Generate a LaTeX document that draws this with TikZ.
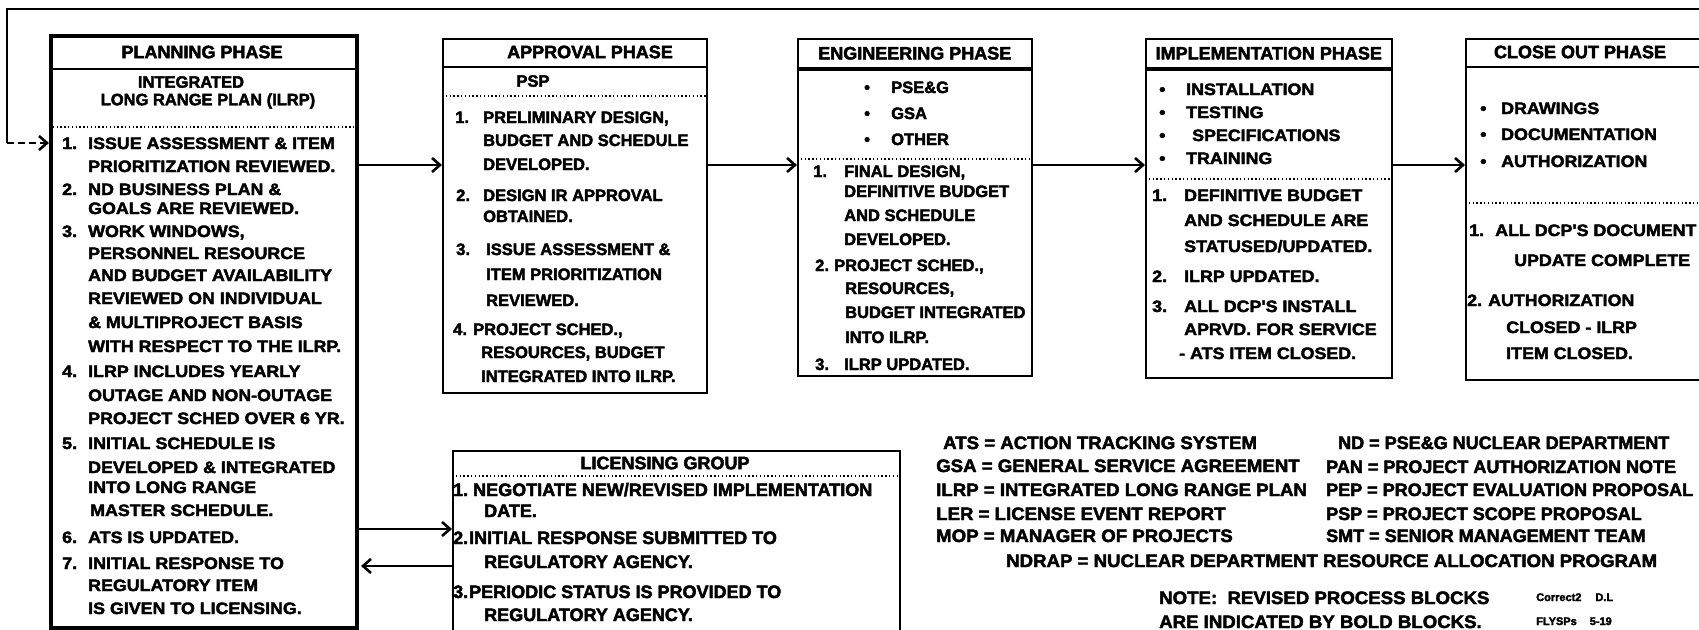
\documentclass[tikz,border=0pt]{standalone}
\usepackage{fontspec}
\setmainfont{Liberation Sans}[BoldFeatures={FakeBold=2.5}]
\newfontfamily\widefam{Liberation Sans}[BoldFeatures={FakeBold=2.5,FakeStretch=1.08}]
\newfontfamily\legfam{Liberation Sans}[BoldFeatures={FakeBold=2.5,FakeStretch=1.035}]
\usetikzlibrary{arrows.meta}
\newcommand\fs{\fontsize{16.5}{20}\selectfont\bfseries}
\newcommand\wfs{\widefam\fontsize{16.5}{20}\selectfont\bfseries}
\newcommand\lgfs{\fontsize{18}{21}\selectfont\bfseries}
\newcommand\legfs{\legfam\fontsize{18}{21}\selectfont\bfseries}
\newcommand\smfs{\fontsize{11}{13}\selectfont\bfseries}
\newcommand\nm[2]{\makebox[#1pt][l]{#2}}
\tikzset{box/.style={draw,line width=1.5pt,inner sep=0pt,anchor=north west},
	 boldbox/.style={box,line width=4pt},
	 ln/.style={anchor=base west,inner sep=0pt,yshift=-6pt,font=\fs},
	 wln/.style={ln,font=\wfs},
	 hd/.style={anchor=center,inner sep=0pt,font=\lgfs},
	 sep/.style={line width=1.5pt,dash pattern=on 1.4pt off 2.4pt},
	 rule/.style={line width=1.5pt},
	 flow/.style={line width=1.5pt,-{Straight Barb[length=8pt,width=14pt,line width=2.6pt]}}
	 }
\begin{document}
\begin{tikzpicture}[x=1pt,y=-1pt]
	\fill[white] (0,0) rectangle (1699,629);
	\useasboundingbox (0,0) rectangle (1699,629);
	% planning phase
	\node[boldbox,minimum width=306pt,minimum height=592pt] (plan) at (49,34) {};
	\node[hd] (planhd) at (202,52) {PLANNING PHASE};
	\draw[rule] (plan.west |- 0,69) -- (plan.east |- 0,69);
	\node[hd,font=\fs] (planint) at (191,82) {INTEGRATED};
	\node[hd,font=\fs] (planlrp) at (208,101) {LONG RANGE PLAN (ILRP)};
	\draw[sep] (plan.west |- 0,127) -- (plan.east |- 0,127);
	\foreach \x/\y/\t [count=\i] in {62/143/{\nm{26}{1.}ISSUE ASSESSMENT \& ITEM},
	  88/166/{PRIORITIZATION REVIEWED.}, 62/189/{\nm{26}{2.}ND BUSINESS PLAN \&},
	  88/208/{GOALS ARE REVIEWED.}, 62/231/{\nm{26}{3.}WORK WINDOWS,},
	  88/253/{PERSONNEL RESOURCE}, 88/275/{AND BUDGET AVAILABILITY},
	  88/298/{REVIEWED ON INDIVIDUAL}, 88/322/{\& MULTIPROJECT BASIS},
	  88/346/{WITH RESPECT TO THE ILRP.}, 62/371/{\nm{26}{4.}ILRP INCLUDES YEARLY},
	  88/395/{OUTAGE AND NON-OUTAGE}, 88/418/{PROJECT SCHED OVER 6 YR.},
	  62/443/{\nm{26}{5.}INITIAL SCHEDULE IS}, 88/467/{DEVELOPED \& INTEGRATED},
	  88/487/{INTO LONG RANGE}, 90/510/{MASTER SCHEDULE.},
	  62/537/{\nm{26}{6.}ATS IS UPDATED.}, 62/563/{\nm{26}{7.}INITIAL RESPONSE TO},
	  88/585/{REGULATORY ITEM}, 88/608/{IS GIVEN TO LICENSING.}}
	  \node[wln] (pl\i) at (\x,\y) {\t};
	% approval phase
	\node[box,minimum width=264pt,minimum height=354pt] (appr) at (442,38) {};
	\node[hd] (apprhd) at (590,52) {APPROVAL PHASE};
	\draw[rule] (appr.west |- 0,67) -- (appr.east |- 0,67);
	\node[hd,font=\fs] (apprpsp) at (533,81) {PSP};
	\draw[sep] (appr.west |- 0,96) -- (appr.east |- 0,96);
	\foreach \x/\y/\t [count=\i] in {455/117/{\nm{28}{1.}PRELIMINARY DESIGN,},
	  483/140/{BUDGET AND SCHEDULE}, 483/164/{DEVELOPED.},
	  456/195/{\nm{27}{2.}DESIGN IR APPROVAL}, 483/216/{OBTAINED.},
	  456/249/{\nm{30}{3.}ISSUE ASSESSMENT \&}, 486/274/{ITEM PRIORITIZATION},
	  486/300/{REVIEWED.}, 453/329/{\nm{20}{4.}PROJECT SCHED.,},
	  481/352/{RESOURCES, BUDGET}, 481/376/{INTEGRATED INTO ILRP.}}
	  \node[ln] (ap\i) at (\x,\y) {\t};
	% engineering phase
	\node[box,minimum width=234pt,minimum height=29pt,font=\lgfs] (engrhd) at (797,38) {ENGINEERING PHASE};
	\node[box,minimum width=234pt,minimum height=306pt] (engr) at (797,69) {};
	\draw[sep] (engr.west |- 0,159) -- (engr.east |- 0,159);
	\foreach \x/\y/\t [count=\i] in {864/87/{\nm{27}{\textbullet}PSE\&G},
	  864/113/{\nm{27}{\textbullet}GSA}, 864/139/{\nm{27}{\textbullet}OTHER},
	  813/171/{\nm{31}{1.}FINAL DESIGN,}, 844/191/{DEFINITIVE BUDGET},
	  844/215/{AND SCHEDULE}, 844/239/{DEVELOPED.},
	  815/265/{\nm{19}{2.}PROJECT SCHED.,}, 845/288/{RESOURCES,},
	  845/312/{BUDGET INTEGRATED}, 845/337/{INTO ILRP.},
	  815/364/{\nm{29}{3.}ILRP UPDATED.}}
	  \node[ln] (en\i) at (\x,\y) {\t};
	% implementation phase
	\node[box,minimum width=246pt,minimum height=29pt,font=\lgfs] (implhd) at (1145,38) {IMPLEMENTATION PHASE};
	\node[box,minimum width=246pt,minimum height=308pt] (impl) at (1145,69) {};
	\draw[sep] (impl.west |- 0,179) -- (impl.east |- 0,179);
	\foreach \x/\y/\t [count=\i] in {1159/89/{\nm{27}{\textbullet}INSTALLATION},
	  1159/112/{\nm{27}{\textbullet}TESTING}, 1159/135/{\nm{33}{\textbullet}SPECIFICATIONS},
	  1159/158/{\nm{27}{\textbullet}TRAINING},
	  1152/195/{\nm{32}{1.}DEFINITIVE BUDGET}, 1184/220/{AND SCHEDULE ARE},
	  1184/246/{STATUSED/UPDATED.}, 1152/276/{\nm{32}{2.}ILRP UPDATED.},
	  1152/306/{\nm{32}{3.}ALL DCP'S INSTALL}, 1184/329/{APRVD. FOR SERVICE},
	  1179/353/{- ATS ITEM CLOSED.}}
	  \node[wln] (im\i) at (\x,\y) {\t};
	% close out phase
	\node[box,minimum width=260pt,minimum height=341pt] (close) at (1465,38) {};
	\node[hd] (closehd) at (1580,52) {CLOSE OUT PHASE};
	\draw[rule] (close.west |- 0,67) -- (close.east |- 0,67);
	\draw[sep] (close.west |- 0,203) -- (close.east |- 0,203);
	\foreach \x/\y/\t [count=\i] in {1480/108/{\nm{21}{\textbullet}DRAWINGS},
	  1480/134/{\nm{21}{\textbullet}DOCUMENTATION}, 1480/161/{\nm{21}{\textbullet}AUTHORIZATION},
	  1469/230/{\nm{26}{1.}ALL DCP'S DOCUMENT}, 1514/260/{UPDATE COMPLETE},
	  1467/300/{\nm{21}{2.}AUTHORIZATION}, 1506/327/{CLOSED - ILRP},
	  1506/353/{ITEM CLOSED.}}
	  \node[wln] (co\i) at (\x,\y) {\t};
	% licensing group
	\node[box,minimum width=447pt,minimum height=200pt] (lic) at (452,450) {};
	\node[hd] (lichd) at (665,463) {LICENSING GROUP};
	\draw[sep] (lic.west |- 0,476) -- (lic.east |- 0,476);
	\foreach \x/\y/\t [count=\i] in {453/490/{\nm{20}{1.}NEGOTIATE NEW/REVISED IMPLEMENTATION},
	  484/511/{DATE.}, 453/538/{\nm{16}{2.}INITIAL RESPONSE SUBMITTED TO},
	  484/562/{REGULATORY AGENCY.}, 453/592/{\nm{16}{3.}PERIODIC STATUS IS PROVIDED TO},
	  484/615/{REGULATORY AGENCY.}}
	  \node[ln,font=\lgfs] (li\i) at (\x,\y) {\t};
	% abbreviations
	\foreach \x/\y/\t [count=\i] in {943/443/{ATS = ACTION TRACKING SYSTEM},
	  936/466/{GSA = GENERAL SERVICE AGREEMENT}, 936/490/{ILRP = INTEGRATED LONG RANGE PLAN},
	  936/514/{LER = LICENSE EVENT REPORT}, 936/536/{MOP = MANAGER OF PROJECTS},
	  1006/561/{NDRAP = NUCLEAR DEPARTMENT RESOURCE ALLOCATION PROGRAM},
	  1159/598/{NOTE:\ \ REVISED PROCESS BLOCKS}, 1159/622/{ARE INDICATED BY BOLD BLOCKS.}}
	  \node[ln,font=\legfs] (ab\i) at (\x,\y) {\t};
	\foreach \x/\y/\t [count=\i] in {1338/443/{ND = PSE\&G NUCLEAR DEPARTMENT},
	  1326/467/{PAN = PROJECT AUTHORIZATION NOTE}, 1326/490/{PEP = PROJECT EVALUATION PROPOSAL},
	  1326/514/{PSP = PROJECT SCOPE PROPOSAL}, 1326/536/{SMT = SENIOR MANAGEMENT TEAM}}
	  \node[ln,font=\lgfs] (ar\i) at (\x,\y) {\t};
	\node[ln,font=\smfs,yshift=2pt] (rev1) at (1536,597) {Correct2\hspace{14pt}D.L};
	\node[ln,font=\smfs,yshift=2pt] (rev2) at (1536,621) {FLYSPs\hspace{13pt}5-19};
	% connectors
	\draw[flow] (plan.east |- 0,165) -- (appr.west |- 0,165);
	\draw[flow] (appr.east |- 0,165) -- (engr.west |- 0,165);
	\draw[flow] (engr.east |- 0,165) -- (impl.west |- 0,165);
	\draw[flow] (impl.east |- 0,165) -- (close.west |- 0,165);
	\draw[flow] (plan.east |- 0,529) -- (lic.west |- 0,529);
	\draw[flow,shorten >=2pt] (lic.west |- 0,566) -- (plan.east |- 0,566);
	\coordinate (loopin) at (1720,9);
	\coordinate (loopcnr) at (7,143);
	\draw[rule] (loopin) -| (loopcnr);
	\draw[flow,dash pattern=on 7pt off 4pt] (loopcnr) -- (plan.west |- loopcnr);
\end{tikzpicture}
\end{document}
